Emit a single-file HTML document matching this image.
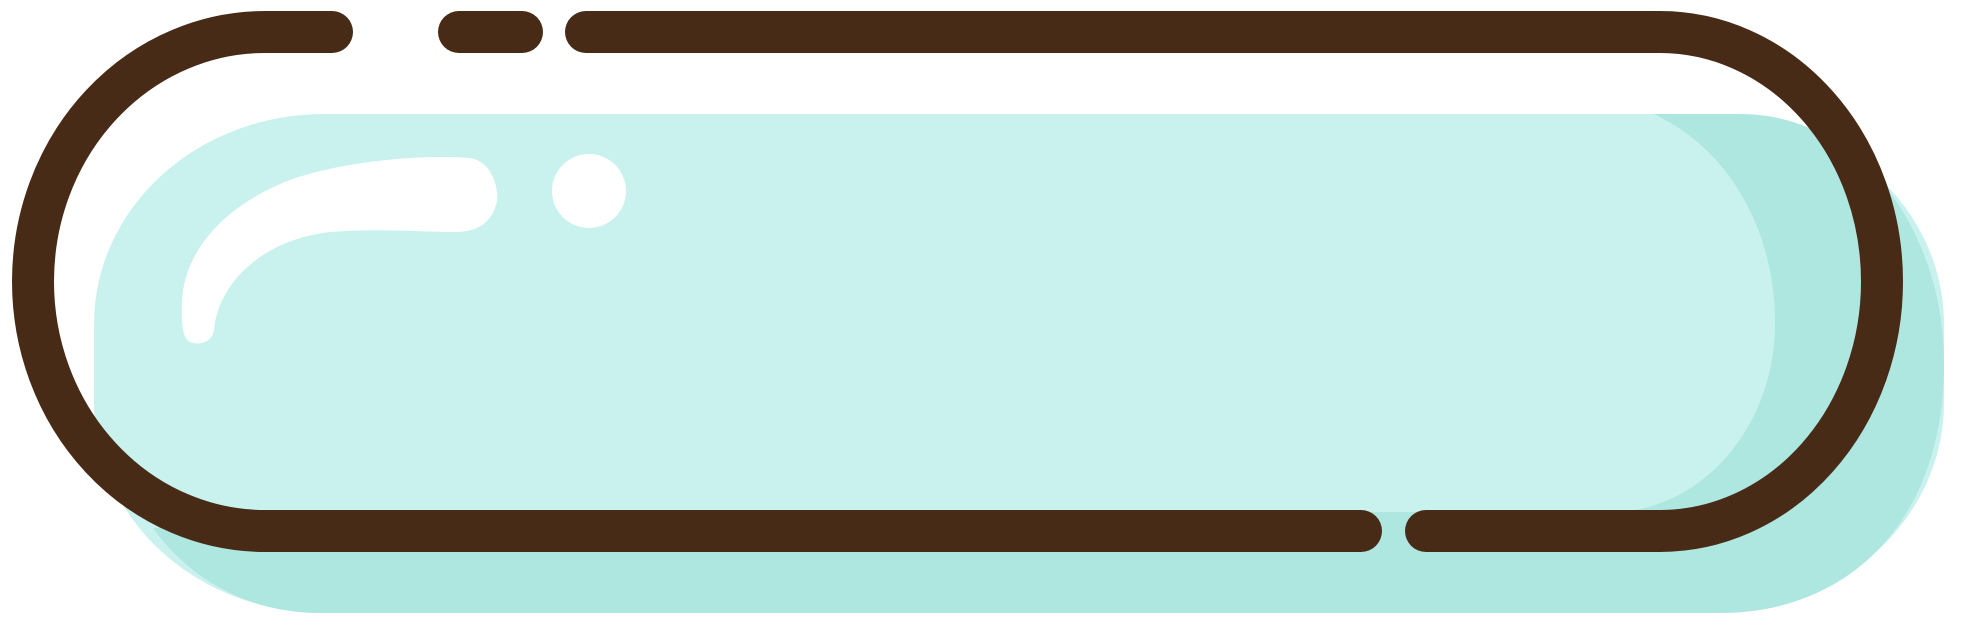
<!DOCTYPE html>
<html><head><meta charset="utf-8"><style>
html,body{margin:0;padding:0;background:#fff;}
svg{display:block;}
</style></head><body>
<svg width="1967" height="628" viewBox="0 0 1967 628">
  <rect x="94" y="114" width="1850" height="499" rx="230" ry="210" fill="#c9f2ee"/>
  <path fill="#aee6e0"
    d="M1654,114 C1730,150 1775,230 1775,324 C1775,420 1710,505 1620,512 L300,512 L153,528 C190,580 250,613 320,613 L1720,613 C1850,613 1944,520 1944,364 C1944,230 1860,114 1740,114 Z"/>
  <path fill="#fff"
    d="M470,158 C495,162 500,195 496,205 C490,225 475,232 455,232 C420,232 380,228 330,232 C260,240 218,285 214,330 C212,342 200,346 190,342 C182,338 181,320 182,300 C185,250 225,205 290,180 C340,162 420,154 470,158 Z"/>
  <circle cx="589" cy="191" r="37" fill="#fff"/>
  <g fill="none" stroke="#482b17" stroke-width="42" stroke-linecap="round" stroke-linejoin="round">
    <path d="M332,32 L265,32 A232,249.5 0 0 0 265,531 L1361,531"/>
    <path d="M1426,531 L1660,531 A222,249.5 0 0 0 1660,32 L586,32"/>
    <path d="M459,32 L522,32"/>
  </g>
</svg>
</body></html>
